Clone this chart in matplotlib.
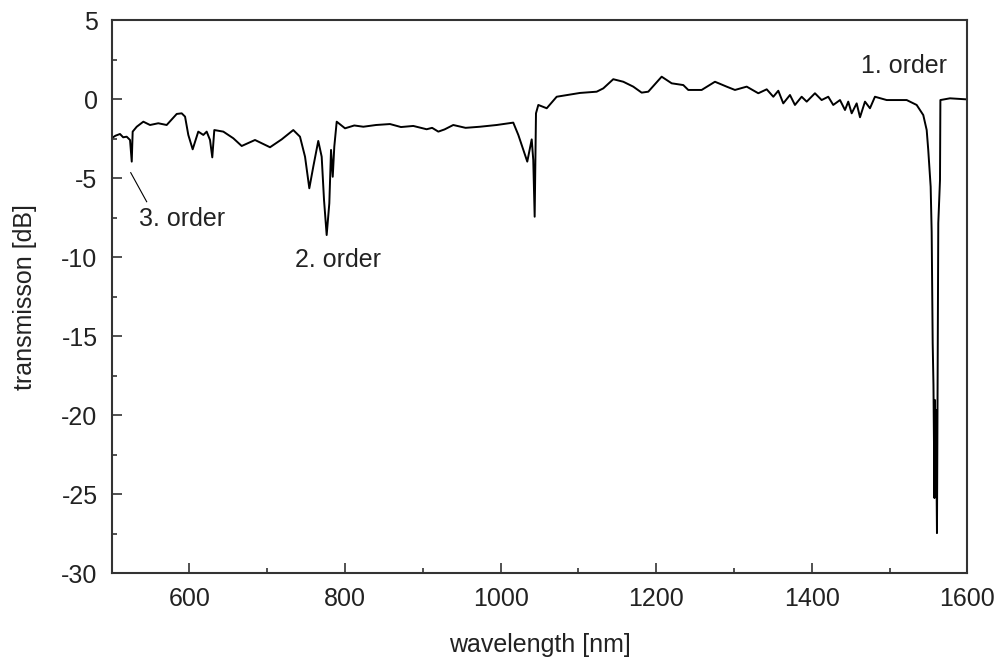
import numpy as np
import matplotlib.pyplot as plt
from matplotlib.ticker import MultipleLocator

# transmission spectrum
wavelength = [500, 505.0, 510.9, 515.0, 519.5, 523.8, 526.0, 527.2, 532.4, 540.9, 549.5, 560.1,
              570.9, 583.8, 590.2, 594.5, 598.7, 604.3, 611.5, 618.0, 622.3, 626.6,
              629.5, 632.1, 643.7, 656.5, 667.3, 684.4, 703.7, 718.7, 733.6, 742.2,
              748.7, 754.2, 759.3, 765.7, 770.1, 773.1, 776.5, 779.9, 782.1, 784.3,
              786.3, 789.4, 800.1, 812.0, 823.6, 840.0, 857.9, 872.0, 887.8, 905.0, 912.0,
              920.0, 928.0, 939.2, 955.0, 973.5, 995.0,
              1016.3, 1022.8, 1029.2, 1034.3, 1040.0, 1042.0, 1043.8, 1045.5, 1048.5, 1059.3,
              1072.1, 1102.0, 1123.5, 1132.0, 1144.8, 1157.7, 1170.5, 1181.3, 1189.8, 1207.0,
              1219.9, 1234.8, 1241.2, 1258.4, 1275.5, 1290.5, 1301.2, 1316.3, 1331.2, 1342.0,
              1350.5, 1356.9, 1363.3, 1371.9, 1378.3, 1386.9, 1393.4, 1404.0, 1412.6, 1421.1,
              1427.5, 1436.2, 1442.6, 1446.8, 1451.2, 1457.6, 1461.9, 1468.3, 1474.7, 1481.1,
              1496.2, 1521.9, 1534.7, 1543.2, 1547.6, 1549.6, 1552.7, 1554.0, 1555.3, 1556.3,
              1557.6, 1558.2, 1558.9, 1559.5, 1560.8, 1562.5, 1564.7, 1565.2, 1577.5, 1600]
transmission = [-2.46, -2.30, -2.19, -2.40, -2.36, -2.57, -3.94, -2.04, -1.73, -1.41, -1.62, -1.51,
                -1.62, -0.92, -0.88, -1.09, -2.25, -3.16, -2.04, -2.25, -2.04, -2.57,
                -3.67, -1.94, -2.04, -2.46, -2.95, -2.57, -3.03, -2.53, -1.94, -2.36,
                -3.63, -5.63, -4.26, -2.63, -3.63, -6.37, -8.59, -6.58, -3.20, -4.90,
                -2.99, -1.41, -1.83, -1.65, -1.73, -1.62, -1.56, -1.75, -1.68, -1.89, -1.80,
                -2.04, -1.90, -1.62, -1.80, -1.73, -1.62,
                -1.47, -2.25, -3.20, -3.94, -2.53, -3.84, -7.43, -0.88, -0.35, -0.56,
                0.17, 0.41, 0.49, 0.70, 1.28, 1.12, 0.81, 0.43, 0.49, 1.44,
                1.02, 0.91, 0.60, 0.60, 1.12, 0.81, 0.60, 0.81, 0.39, 0.64,
                0.17, 0.55, -0.25, 0.28, -0.35, 0.17, -0.14, 0.39, -0.04, 0.17,
                -0.35, -0.04, -0.67, -0.14, -0.88, -0.25, -1.13, -0.14, -0.56, 0.17,
                -0.04, -0.04, -0.35, -0.99, -1.94, -3.20, -5.53, -8.40, -15.43, -18.09,
                -25.25, -19.04, -25.06, -19.67, -27.47, -7.83, -5.10, -0.04, 0.07, 0.0]

plt.rcParams['font.family'] = ['Liberation Sans', 'DejaVu Sans']
plt.rcParams['axes.unicode_minus'] = False

fig = plt.figure(figsize=(10.01, 6.63), dpi=100)
ax = fig.add_axes([0.1114, 0.1357, 0.8551, 0.8334])
fs = 18
tc = '#222222'

ax.plot(wavelength, transmission, color='black', lw=1.4)

ax.set_xlim(500, 1600)
ax.set_ylim(-30, 5)
ax.xaxis.set_major_locator(MultipleLocator(200))
ax.xaxis.set_minor_locator(MultipleLocator(100))
ax.yaxis.set_major_locator(MultipleLocator(5))
ax.yaxis.set_minor_locator(MultipleLocator(2.5))
ax.tick_params(which='both', direction='in', colors='#333333', labelcolor=tc,
               labelsize=fs, width=1.2, pad=10)
ax.tick_params(which='major', length=7)
ax.tick_params(which='minor', length=3.5)
for s in ax.spines.values():
    s.set_linewidth(1.5)
    s.set_color('#333333')

ax.set_xlabel('wavelength [nm]', fontsize=fs, color=tc, va='center')
ax.set_ylabel('transmisson [dB]', fontsize=fs, color=tc, va='center')
ax.xaxis.set_label_coords(0.5, -0.13)
ax.yaxis.set_label_coords(-0.101, 0.5)

# order labels
ax.text(1518, 2.1, '1. order', fontsize=fs, color=tc, ha='center', va='center')
ax.text(791, -10.2, '2. order', fontsize=fs, color=tc, ha='center', va='center')
ax.text(591, -7.6, '3. order', fontsize=fs, color=tc, ha='center', va='center')
ax.plot([524.7, 545.2], [-4.64, -6.48], color='black', lw=0.8)

fig.savefig('out.png', dpi=100)
